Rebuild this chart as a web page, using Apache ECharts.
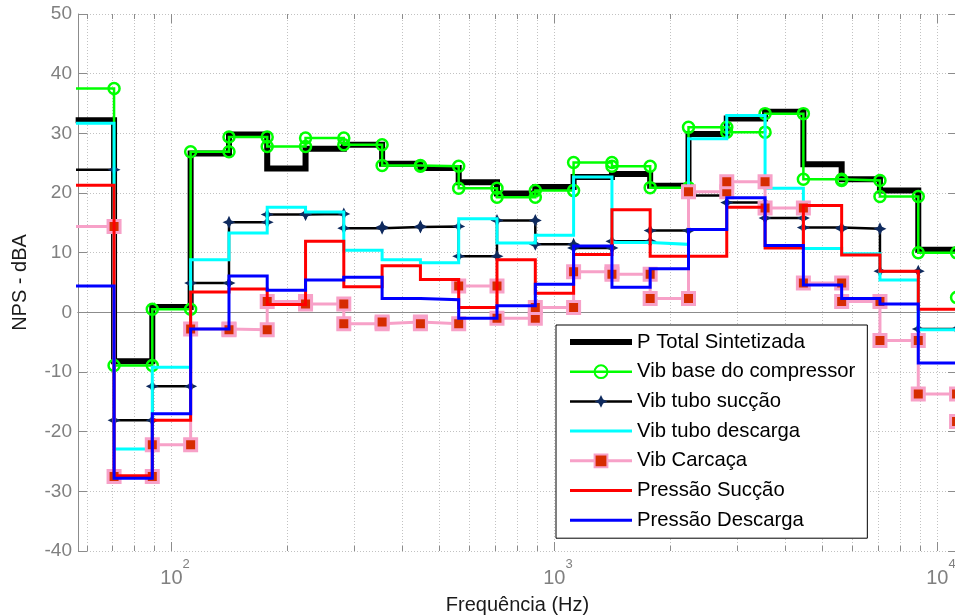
<!DOCTYPE html>
<html>
<head>
<meta charset="utf-8">
<script src="https://cdn.jsdelivr.net/npm/echarts@6/dist/echarts.min.js"></script>
<style>
html, body { margin: 0; padding: 0; background: #fff; }
#chart { width: 955px; height: 616px; }
</style>
</head>
<body>
<div id="chart"></div>
<script>
// Third-octave band edges (Hz): each level holds between two consecutive edges
const bandEdges = [56.2, 70.8, 89.1, 112.2, 141.3, 177.8, 223.9, 281.8, 354.8, 446.7, 562.3,
  707.9, 891.3, 1122, 1413, 1778, 2239, 2818, 3548, 4467, 5623, 7079, 8913, 11220, 14125];

// Band levels, NPS in dBA
const pTotalSintetizada = [32.2, -8.2, 0.9, 26.6, 29.8, 24.1, 27.4, 28.1, 24.9, 24.2, 21.8, 19.9,
  21.0, 22.7, 23.2, 21.2, 29.9, 32.5, 33.6, 24.8, 22.3, 20.4, 10.5];
const vibBaseCompressor = [37.5, -8.9, 0.5, 26.9, 29.4, 27.8, 29.2, 28.1, 24.6, 24.5, 20.8, 19.3,
  20.4, 25.1, 24.5, 20.9, 31.0, 30.2, 33.3, 22.3, 22.1, 19.4, 10.0, 2.5];
const vibTuboSuccao = [23.9, -18.1, -12.4, 4.9, 15.1, 16.4, 16.5, 14.1, 14.3, 14.4, 9.4, 15.4,
  11.4, 10.8, 11.9, 13.7, 19.6, 18.4, 15.8, 14.2, 14.0, 6.9, -2.8];
const vibTuboDescarga = [31.7, -22.9, -9.2, 8.8, 13.3, 17.6, 16.8, 10.4, 8.8, 8.3, 15.7, 11.6,
  12.9, 22.7, 11.7, 11.4, 29.1, 33.0, 20.8, 10.7, 9.8, 5.4, -2.9];
const vibCarcaca = [14.4, -27.5, -22.2, -2.8, -2.9, 1.8, 1.4, -1.9, -1.6, -1.9, 4.4, -1.0,
  0.8, 6.8, 6.4, 2.3, 20.2, 21.9, 17.5, 4.9, 1.8, -4.7, -13.7, -18.3];
const pressaoSuccao = [21.3, -27.4, -18.1, 3.4, 3.9, 1.3, 11.9, 4.3, 7.8, 5.5, 0.8, 8.8,
  3.2, 9.7, 17.2, 9.4, 9.4, 17.6, 10.8, 17.9, 9.6, 6.9, 0.5];
const pressaoDescarga = [4.4, -27.8, -17.0, -2.8, 6.1, 3.7, 5.4, 5.9, 2.3, 2.1, -1.0, 1.1,
  4.7, 11.1, 4.2, 7.3, 13.9, 19.2, 11.2, 4.6, 2.3, 1.4, -8.5];

const seriesNames = ['P Total Sintetizada', 'Vib base do compressor', 'Vib tubo sucção',
  'Vib tubo descarga', 'Vib Carcaça', 'Pressão Sucção', 'Pressão Descarga'];

// Frequency axis range (Hz) and level axis range (dBA)
const freqMin = 57, freqMax = 11250;
const levelMin = -40, levelMax = 50, levelStep = 10;

// Decade subdivisions used for the vertical grid and the minor ticks
const gridFreqs = [];
[10, 100, 1000].forEach(d => {
  for (let k = 1; k <= 9; k++) {
    const f = k * d;
    if (f >= 60 && f <= 9000) gridFreqs.push(f);
  }
});
gridFreqs.push(10000);

const FONT = 'Liberation Sans, Arial, Helvetica, sans-serif';
const AXIS_GRAY = '#8c8c8c';
const GRID_GRAY = '#c2c2c2';
const NO_MARK = { color: 'rgba(0,0,0,0)', borderWidth: 0 };

// Staircase vertices: every corner carries a marker
function stairs(levels) {
  const pts = [];
  levels.forEach((v, i) => {
    pts.push([bandEdges[i], v], [bandEdges[i + 1], v]);
  });
  return pts;
}

function renderFreqGrid(params, api) {
  const f = api.value(0);
  const x = Math.round(api.coord([f, levelMin])[0]) + 0.5;
  const cs = params.coordSys;
  const lg = Math.log10(f);
  const major = Math.abs(lg - Math.round(lg)) < 1e-9;
  const len = major ? 9 : 5;
  const top = cs.y, bot = cs.y + cs.height;
  return {
    type: 'group',
    children: [
      { type: 'line', shape: { x1: x, y1: top, x2: x, y2: bot },
        style: { stroke: GRID_GRAY, lineWidth: 1, lineDash: [1, 2] } },
      { type: 'line', shape: { x1: x, y1: bot, x2: x, y2: bot - len },
        style: { stroke: AXIS_GRAY, lineWidth: 1 } },
      { type: 'line', shape: { x1: x, y1: top, x2: x, y2: top + len },
        style: { stroke: AXIS_GRAY, lineWidth: 1 } }
    ]
  };
}

function stairSeries(name, levels, color, width, extra) {
  return Object.assign({
    name: name,
    type: 'line',
    data: stairs(levels),
    xAxisIndex: 0,
    yAxisIndex: 0,
    clip: true,
    symbol: 'none',
    lineStyle: { color: color, width: width, join: 'miter', cap: 'butt' },
    itemStyle: { color: color },
    emphasis: { disabled: true },
    animation: false
  }, extra || {});
}

const chart = echarts.init(document.getElementById('chart'), null, { renderer: 'canvas' });

chart.setOption({
  backgroundColor: '#fff',
  animation: false,
  textStyle: { fontFamily: FONT },
  grid: { left: 78, top: 14, right: -2, bottom: 65, containLabel: false, outerBoundsMode: 'none' },
  legend: {
    data: [
      { name: seriesNames[0], lineStyle: { width: 6 }, itemStyle: NO_MARK },
      { name: seriesNames[1], lineStyle: { width: 2.5 } },
      { name: seriesNames[2], lineStyle: { width: 2.5 } },
      { name: seriesNames[3], lineStyle: { width: 3 }, itemStyle: NO_MARK },
      { name: seriesNames[4], lineStyle: { width: 3 } },
      { name: seriesNames[5], lineStyle: { width: 3 }, itemStyle: NO_MARK },
      { name: seriesNames[6], lineStyle: { width: 3 }, itemStyle: NO_MARK }
    ],
    orient: 'vertical',
    left: 556,
    top: 325,
    padding: [7, 12, 8, 11],
    itemGap: 9.7,
    itemWidth: 62,
    itemHeight: 16,
    backgroundColor: '#fff',
    borderColor: '#000',
    borderWidth: 1,
    borderRadius: 0,
    selectedMode: false,
    textStyle: { fontSize: 20.3, color: '#000', fontFamily: FONT, lineHeight: 20 }
  },
  xAxis: [
    {
      type: 'log',
      logBase: 10,
      min: freqMin,
      max: freqMax,
      position: 'bottom',
      name: 'Frequência (Hz)',
      nameLocation: 'middle',
      nameGap: 44,
      nameMoveOverlap: false,
      nameTextStyle: { fontSize: 20, color: '#1a1a1a', fontFamily: FONT },
      axisLine: { show: true, lineStyle: { color: AXIS_GRAY, width: 1 } },
      axisTick: { show: false },
      splitLine: { show: false },
      axisLabel: {
        margin: 7,
        showMinLabel: false,
        showMaxLabel: false,
        formatter: function (v) {
          const e = Math.round(Math.log10(v));
          if (Math.abs(v - Math.pow(10, e)) / v > 1e-6) return '';
          return '{s| }{b|10}{e|' + e + '}';
        },
        rich: {
          s: { width: 7, lineHeight: 30, verticalAlign: 'bottom', fontSize: 13 },
          b: { fontSize: 20, color: '#808080', lineHeight: 30, verticalAlign: 'bottom', fontFamily: FONT },
          e: { fontSize: 13, color: '#808080', lineHeight: 29, verticalAlign: 'top', fontFamily: FONT }
        }
      }
    },
    {
      type: 'log',
      logBase: 10,
      min: freqMin,
      max: freqMax,
      position: 'top',
      axisLine: { show: true, lineStyle: { color: AXIS_GRAY, width: 1 } },
      axisTick: { show: false },
      axisLabel: { show: false },
      splitLine: { show: false }
    }
  ],
  yAxis: [
    {
      type: 'value',
      min: levelMin,
      max: levelMax,
      interval: levelStep,
      position: 'left',
      name: 'NPS - dBA',
      nameLocation: 'middle',
      nameGap: 48,
      nameMoveOverlap: false,
      nameTextStyle: { fontSize: 20, color: '#1a1a1a', fontFamily: FONT },
      axisLine: { show: true, lineStyle: { color: AXIS_GRAY, width: 1 } },
      axisTick: { show: true, inside: true, length: 9, lineStyle: { color: AXIS_GRAY } },
      axisLabel: { color: '#808080', fontSize: 19, margin: 6, fontFamily: FONT },
      splitLine: { show: true, lineStyle: { color: GRID_GRAY, width: 1, type: [1, 2] } }
    },
    {
      type: 'value',
      min: levelMin,
      max: levelMax,
      interval: levelStep,
      position: 'right',
      axisLine: { show: true, lineStyle: { color: AXIS_GRAY, width: 1 } },
      axisTick: { show: true, inside: true, length: 9, lineStyle: { color: AXIS_GRAY } },
      axisLabel: { show: false },
      splitLine: { show: false }
    }
  ],
  series: [
    {
      type: 'custom',
      name: 'freqGrid',
      xAxisIndex: 0,
      yAxisIndex: 0,
      silent: true,
      z: 1,
      clip: false,
      renderItem: renderFreqGrid,
      data: gridFreqs.map(f => [f, levelMin]),
      animation: false
    },
    stairSeries(seriesNames[0], pTotalSintetizada, '#000000', 6, { z: 2 }),
    stairSeries(seriesNames[1], vibBaseCompressor, '#00ff00', 2.5, {
      z: 3,
      symbol: 'circle',
      symbolSize: 11,
      itemStyle: { color: 'rgba(255,255,255,0)', borderColor: '#00ff00', borderWidth: 2.5 }
    }),
    stairSeries(seriesNames[2], vibTuboSuccao, '#000000', 2.5, {
      z: 4,
      symbol: 'path://M0,-10 L3.2,-3.2 L10,0 L3.2,3.2 L0,10 L-3.2,3.2 L-10,0 L-3.2,-3.2 Z',
      symbolSize: 13,
      itemStyle: { color: '#0f2a5e' }
    }),
    stairSeries(seriesNames[3], vibTuboDescarga, '#00ffff', 3, { z: 5 }),
    stairSeries(seriesNames[4], vibCarcaca, '#f7a1c8', 3, {
      z: 6,
      symbol: 'rect',
      symbolSize: 12,
      itemStyle: { color: '#d62c00', borderColor: '#f7a1c8', borderWidth: 3 }
    }),
    stairSeries(seriesNames[5], pressaoSuccao, '#ff0000', 3, { z: 7 }),
    stairSeries(seriesNames[6], pressaoDescarga, '#0000ff', 3, { z: 8 })
  ]
});
</script>
</body>
</html>
